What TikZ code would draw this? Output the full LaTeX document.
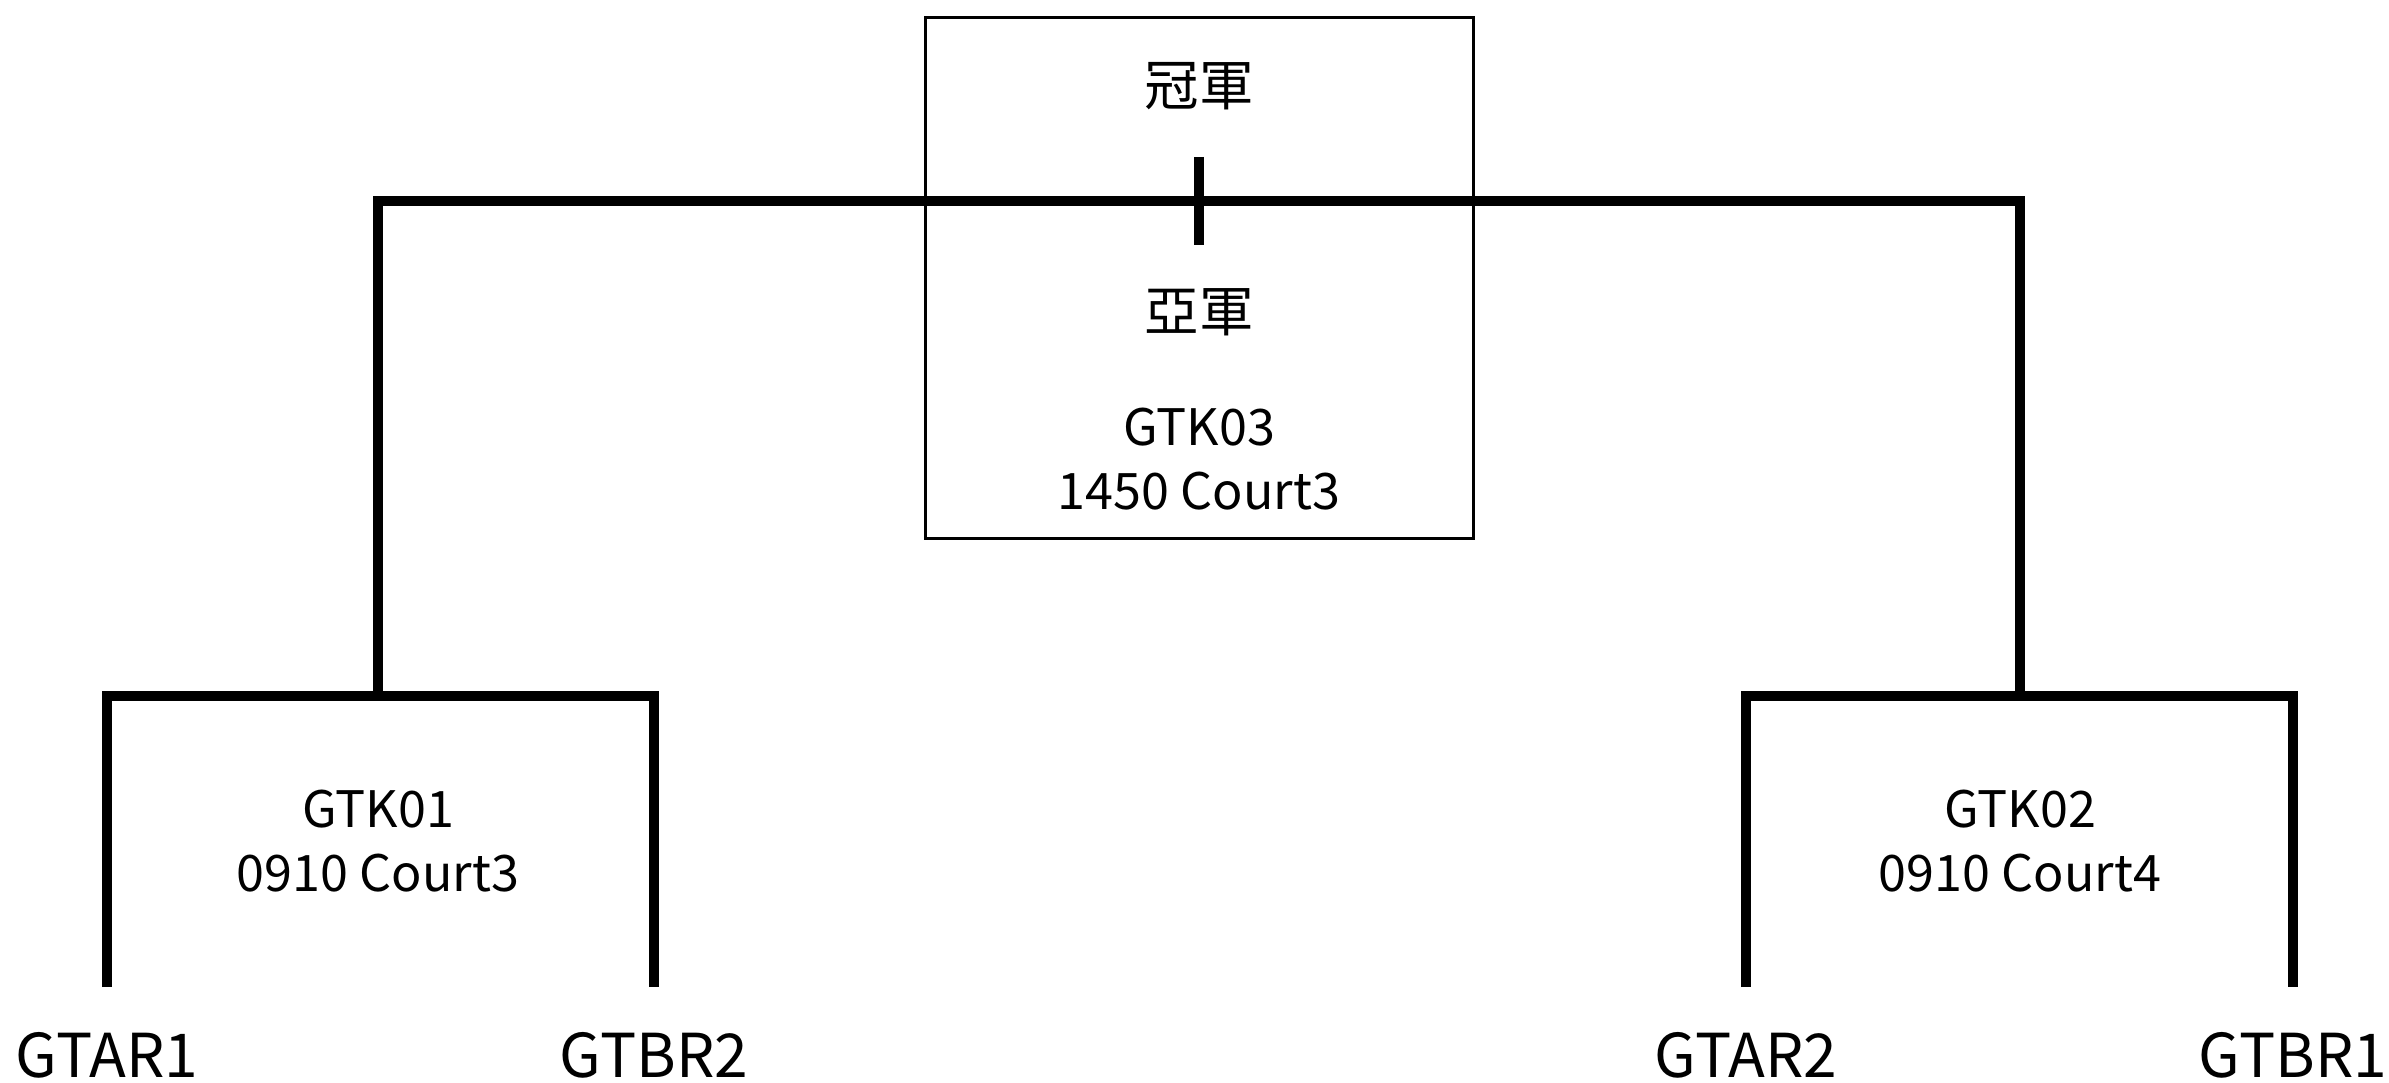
\documentclass[tikz,border=0pt]{standalone}
\usepackage{fontspec}
\setmainfont{Noto Sans CJK TC}
\usetikzlibrary{positioning}

\begin{document}
\begin{tikzpicture}[x=0.01cm,y=-0.01cm,
  bracket/.style={line width=2.7pt},
  info/.style={font=\fontsize{14.3}{18.2}\selectfont, align=center, inner sep=0pt},
  title/.style={font=\fontsize{15.5}{18}\selectfont, inner sep=0pt},
  team/.style={font=\fontsize{17.2}{20}\selectfont, inner sep=0pt}]
\useasboundingbox (0,0) rectangle (2389,1082);

% Final box
\node[draw, line width=0.9pt, minimum width=5.47cm, minimum height=5.2cm] (final) at (1199.5,278) {};
\node[title] (champ) at (1199,86) {冠軍};
\node[title] (runner) at (1199,312) {亞軍};
\node[info] (gtk03) at (1199,459) {GTK03\\1450 Court3};

% Junctions
\coordinate (top) at (1199,201);
\coordinate (k1) at (378,696);
\coordinate (k2) at (2020,696);
\coordinate (tickU) at (1199,157);
\coordinate (tickD) at (1199,245);

% Leg ends
\coordinate (a1) at (107,987);
\coordinate (b2) at (654,987);
\coordinate (a2) at (1746,987);
\coordinate (b1) at (2293,987);

% Match info
\node[info] (gtk01) at (378,841) {GTK01\\0910 Court3};
\node[info] (gtk02) at (2020,841) {GTK02\\0910 Court4};

% Teams
\node[team] (tar1) at (107,1055) {GTAR1};
\node[team] (tbr2) at (654,1055) {GTBR2};
\node[team] (tar2) at (1746,1055) {GTAR2};
\node[team] (tbr1) at (2293,1055) {GTBR1};

% Brackets
\draw[bracket] (a1) |- (k1) -| (b2);
\draw[bracket] (a2) |- (k2) -| (b1);
\draw[bracket] (k1) |- (top) -| (k2);
\draw[bracket] (tickU) -- (tickD);

\end{tikzpicture}
\end{document}
